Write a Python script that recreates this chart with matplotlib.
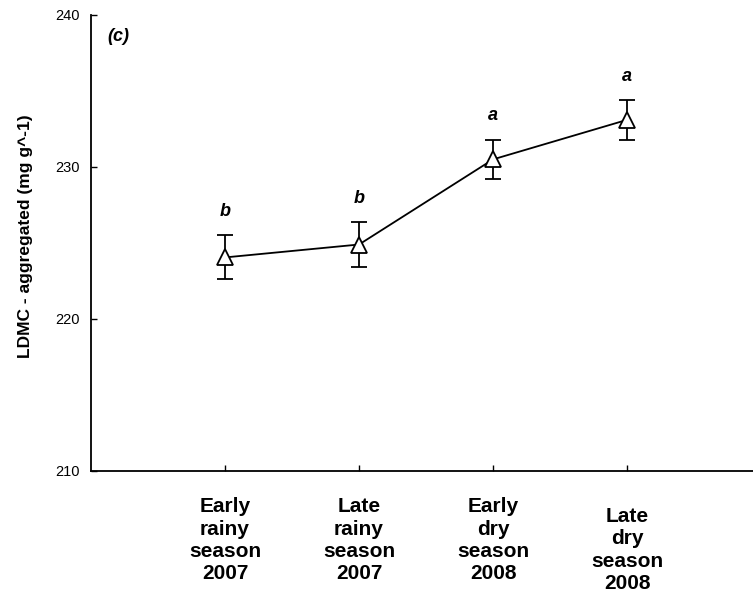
import matplotlib
matplotlib.use("Agg")
import matplotlib.pyplot as plt
from matplotlib.transforms import ScaledTranslation

categories = ["Early\nrainy\nseason\n2007", "Late\nrainy\nseason\n2007",
              "Early\ndry\nseason\n2008", "Late\ndry\nseason\n2008"]
means = [224.05, 224.9, 230.5, 233.1]
errors = [1.45, 1.47, 1.3, 1.3]
letters = ["b", "b", "a", "a"]
yticks = [210, 220, 230, 240]

plt.rcParams['font.family'] = ['Liberation Sans', 'DejaVu Sans']

fig = plt.figure(figsize=(7.53, 5.99), dpi=100)
ax = fig.add_axes([0.1209, 0.2137, 0.8791, 0.7613])

x = list(range(1, len(means) + 1))
ax.errorbar(x, means, yerr=errors, color='black', lw=1.3, elinewidth=1.3,
            capsize=6, capthick=1.3, marker='^', ms=11, mfc='white',
            mec='black', mew=1.3, zorder=3)

for xi, m, e, l in zip(x, means, errors, letters):
    ax.annotate(l, (xi, m + e), xytext=(0, 11), textcoords='offset points',
                ha='center', va='bottom', fontsize=13, fontweight='bold',
                fontstyle='italic')

ax.text(0.12, 238.6, "(c)", fontsize=13, fontweight='bold', fontstyle='italic',
        ha='left', va='center')

ax.set_xlim(0, 4.94)
ax.set_ylim(210, 240)
ax.set_yticks(yticks)
ax.set_yticklabels([str(t) for t in yticks], fontsize=10.5)
ax.set_xticks(x)
ax.set_xticklabels(categories, fontsize=15, fontweight='bold', linespacing=1.22)
ax.tick_params(axis='both', direction='in', length=4, width=1)
ax.tick_params(axis='x', pad=19)
ax.tick_params(axis='y', pad=8)
ax.spines['top'].set_visible(False)
ax.spines['right'].set_visible(False)
ax.spines['left'].set_linewidth(1.3)
ax.spines['bottom'].set_linewidth(1.3)
ax.set_ylabel("LDMC - aggregated (mg g^-1)", fontsize=12.5, fontweight='bold')
ax.yaxis.set_label_coords(-0.088, 0.515)

last = ax.get_xticklabels()[-1]
last.set_transform(last.get_transform() + ScaledTranslation(0, -7 / 72, fig.dpi_scale_trans))

fig.savefig("out.png", dpi=100)
